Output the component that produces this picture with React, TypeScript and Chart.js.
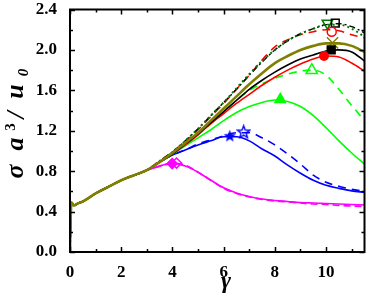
import React, { useEffect, useRef } from "react";
import { Chart, registerables } from "chart.js";
Chart.register(...registerables);

// shear rate grid (gamma)
const gammaGrid = [0, 0.02, 0.06, 0.15, 0.3, 0.5, 1, 1.5, 2, 2.5, 3, 3.5, 4, 4.5, 5, 5.5, 6, 6.5, 7, 7.5, 8, 8.5, 9, 9.5, 10, 10.5, 11, 11.5];
// common start (gamma 0 .. 3)
const trunk = [0, 0.28, 0.49, 0.46, 0.48, 0.5, 0.58, 0.645, 0.71, 0.76, 0.81];
// tails (gamma 3.5 .. 11.5)
const magentaSolid = [0.85, 0.88, 0.85, 0.79, 0.71, 0.635, 0.585, 0.55, 0.525, 0.51, 0.5, 0.49, 0.485, 0.48, 0.475, 0.47, 0.465];
const magentaDashed = [0.85, 0.875, 0.86, 0.79, 0.71, 0.63, 0.58, 0.545, 0.52, 0.505, 0.495, 0.485, 0.475, 0.47, 0.46, 0.455, 0.45];
const blueSolid = [0.89, 0.96, 1.01, 1.06, 1.1, 1.14, 1.14, 1.1, 1.02, 0.95, 0.86, 0.78, 0.71, 0.66, 0.63, 0.605, 0.59];
const blueDashed = [0.89, 0.96, 1.01, 1.07, 1.11, 1.15, 1.18, 1.18, 1.13, 1.06, 0.97, 0.87, 0.76, 0.69, 0.65, 0.62, 0.6];
const greenSolid = [0.89, 0.97, 1.05, 1.13, 1.21, 1.3, 1.38, 1.44, 1.48, 1.505, 1.49, 1.44, 1.35, 1.23, 1.1, 0.98, 0.87];
const greenDashed = [0.89, 0.97, 1.06, 1.16, 1.27, 1.38, 1.5, 1.6, 1.665, 1.72, 1.76, 1.79, 1.8, 1.75, 1.61, 1.45, 1.3];
const redSolid = [0.89, 0.97, 1.06, 1.16, 1.27, 1.37, 1.47, 1.56, 1.65, 1.73, 1.8, 1.86, 1.91, 1.94, 1.93, 1.87, 1.79];
const blackSolid = [0.89, 0.97, 1.07, 1.17, 1.28, 1.39, 1.5, 1.61, 1.7, 1.78, 1.85, 1.91, 1.95, 1.99, 2.0, 1.98, 1.89];
const oliveSolid = [0.89, 0.98, 1.08, 1.18, 1.3, 1.42, 1.54, 1.66, 1.77, 1.87, 1.94, 2.0, 2.04, 2.065, 2.065, 2.04, 1.98];
const redDashed = [0.9, 0.99, 1.09, 1.21, 1.34, 1.47, 1.61, 1.75, 1.9, 2.03, 2.1, 2.15, 2.18, 2.2, 2.19, 2.15, 2.12];
const greenDotted = [0.9, 0.99, 1.1, 1.22, 1.35, 1.48, 1.62, 1.76, 1.89, 2.0, 2.09, 2.16, 2.21, 2.25, 2.25, 2.21, 2.13];
const blackDashDot = [0.9, 0.99, 1.1, 1.22, 1.35, 1.48, 1.61, 1.75, 1.88, 2.0, 2.09, 2.16, 2.21, 2.25, 2.26, 2.23, 2.17];

// peak markers [gamma, value]
const magentaPeakSolid = [3.99, 0.875];
const magentaPeakDashed = [4.16, 0.88];
const bluePeakSolid = [6.24, 1.15];
const bluePeakDashed = [6.78, 1.19];
const greenPeakSolid = [8.21, 1.51];
const greenPeakDashed = [9.44, 1.8];
const redPeakSolid = [9.92, 1.94];
const redPeakDashed = [10.22, 2.18];
const blackPeakSolid = [10.2, 2.0];
const blackPeakDashDot = [10.36, 2.265];
const olivePeak = [10.25, 2.07];
const greenDottedPeak = [10.05, 2.265];

// axis ticks
const xMajor = [0, 2, 4, 6, 8, 10];
const xMinor = [1, 3, 5, 7, 9, 11];
const yMajor = [0, 0.4, 0.8, 1.2, 1.6, 2.0, 2.4];
const yMinor = [0.2, 0.6, 1.0, 1.4, 1.8, 2.2];

const MAGENTA = "#FF00FF";
const BLUE = "#0000FF";
const LIME = "#00FF00";
const RED = "#FF0000";
const BLACK = "#000000";
const OLIVE = "#808000";
const DKGREEN = "#007A00";
const FONT = '"Liberation Serif", "Times New Roman", serif';

function makeStar(size: number, color: string, filled: boolean) {
  const c = document.createElement("canvas");
  c.width = size;
  c.height = size;
  const g = c.getContext("2d")!;
  const cx = size / 2, cy = size / 2 + 0.5;
  const R = size / 2 - 1, r = R * 0.42;
  g.beginPath();
  for (let i = 0; i < 10; i++) {
    const a = -Math.PI / 2 + (i * Math.PI) / 5;
    const rad = i % 2 === 0 ? R : r;
    const px = cx + rad * Math.cos(a), py = cy + rad * Math.sin(a);
    if (i === 0) g.moveTo(px, py); else g.lineTo(px, py);
  }
  g.closePath();
  if (filled) {
    g.fillStyle = color;
    g.fill();
  } else {
    g.strokeStyle = color;
    g.lineWidth = 1.4;
    g.stroke();
  }
  return c;
}

function series(tail: number[], color: string, width: number, dash: number[], order: number) {
  const vals = [...trunk, ...tail];
  return {
    type: "line" as const,
    data: gammaGrid.map((g, i) => ({ x: g, y: vals[i] })),
    borderColor: color,
    borderWidth: width,
    borderDash: dash,
    pointRadius: 0,
    cubicInterpolationMode: "monotone" as const,
    fill: false,
    order,
  };
}

function marker(p: number[], color: string, style: any, radius: number, filled: boolean, rotation = 0) {
  return {
    type: "line" as const,
    data: [{ x: p[0], y: p[1] }],
    showLine: false,
    pointStyle: style,
    pointRadius: radius,
    pointRotation: rotation,
    pointBackgroundColor: filled ? color : "rgba(255,255,255,0)",
    pointBorderColor: color,
    pointBorderWidth: 1.5,
    borderColor: color,
    backgroundColor: filled ? color : "rgba(255,255,255,0)",
    order: 0,
  };
}

const framePlugin = {
  id: "frameTicks",
  afterDraw(chart: any) {
    const ctx = chart.ctx;
    const { left, right, top, bottom } = chart.chartArea;
    const xs = chart.scales.x;
    const ys = chart.scales.y;
    ctx.save();
    ctx.strokeStyle = "#000";
    ctx.lineWidth = 1.5;
    ctx.beginPath();
    const tick = (vals: number[], len: number) => {
      vals.forEach((v) => {
        const px = Math.round(xs.getPixelForValue(v)) + 0.5;
        ctx.moveTo(px, bottom);
        ctx.lineTo(px, bottom - len);
        ctx.moveTo(px, top);
        ctx.lineTo(px, top + len);
      });
    };
    const ytick = (vals: number[], len: number) => {
      vals.forEach((v) => {
        const py = Math.round(ys.getPixelForValue(v)) + 0.5;
        ctx.moveTo(left, py);
        ctx.lineTo(left + len, py);
        ctx.moveTo(right, py);
        ctx.lineTo(right - len, py);
      });
    };
    tick(xMajor, 5);
    tick(xMinor, 3);
    ytick(yMajor, 5);
    ytick(yMinor, 3);
    ctx.stroke();
    ctx.lineWidth = 2;
    ctx.strokeRect(left, top, right - left, bottom - top);

    // x title
    ctx.fillStyle = "#000";
    ctx.textAlign = "center";
    ctx.textBaseline = "alphabetic";
    ctx.font = `bold italic 24px ${FONT}`;
    ctx.fillText("γ", 226, 288);

    // y title (rotated)
    ctx.rotate(-Math.PI / 2);
    ctx.font = `bold italic 26px ${FONT}`;
    ctx.fillText("σ", -171.5, 23);
    ctx.fillText("a", -144, 23);
    ctx.fillText("/", -115, 24);
    ctx.fillText("u", -91.5, 23);
    ctx.font = `bold 15px ${FONT}`;
    ctx.fillText("3", -127, 15);
    ctx.font = `bold italic 15px ${FONT}`;
    ctx.fillText("0", -72.5, 28);
    ctx.restore();
  },
};

export default function App() {
  const ref = useRef<HTMLCanvasElement>(null);
  useEffect(() => {
    const canvas = ref.current!;
    const starFilled = makeStar(15, BLUE, true);
    const starOpen = makeStar(15, BLUE, false);
    const chart = new Chart(canvas, {
      type: "line",
      data: {
        datasets: [
          series(magentaSolid, MAGENTA, 1.6, [], 12),
          series(magentaDashed, MAGENTA, 1.6, [7, 4], 11),
          series(blueSolid, BLUE, 1.6, [], 10),
          series(blueDashed, BLUE, 1.6, [8, 6], 9),
          series(greenSolid, LIME, 1.6, [], 8),
          series(greenDashed, LIME, 1.6, [8, 6], 7),
          series(redSolid, RED, 1.6, [], 6),
          series(blackSolid, BLACK, 1.6, [], 5),
          series(redDashed, RED, 1.6, [8, 6], 4),
          series(blackDashDot, BLACK, 1.4, [6, 3, 2, 3], 3),
          series(greenDotted, DKGREEN, 2, [2, 3], 2),
          series(oliveSolid, OLIVE, 2.6, [], 1),
          marker(magentaPeakSolid, MAGENTA, "rectRot", 5, true),
          marker(magentaPeakDashed, MAGENTA, "rectRot", 5, false),
          marker(bluePeakSolid, BLUE, starFilled, 7, true),
          marker(bluePeakDashed, BLUE, starOpen, 7, false),
          marker(greenPeakSolid, LIME, "triangle", 6, true),
          marker(greenPeakDashed, LIME, "triangle", 6.5, false),
          marker(redPeakSolid, RED, "circle", 4.2, true),
          marker(redPeakDashed, RED, "circle", 4.5, false),
          marker(blackPeakSolid, BLACK, "rect", 5.5, true),
          marker(blackPeakDashDot, BLACK, "rect", 5.5, false),
          marker(olivePeak, OLIVE, "crossRot", 8, false),
          marker(greenDottedPeak, DKGREEN, "triangle", 6, false, 180),
        ] as any,
      },
      options: {
        responsive: false,
        animation: false,
        devicePixelRatio: 1,
        layout: { padding: { left: 0, right: 2, top: 8, bottom: 0 } },
        plugins: { legend: { display: false }, tooltip: { enabled: false } },
        scales: {
          x: {
            type: "linear",
            min: 0,
            max: 11.5,
            grid: { display: false },
            border: { display: false },
            ticks: {
              stepSize: 2,
              padding: 2,
              autoSkip: false,
              includeBounds: false,
              maxRotation: 0,
              color: "#000",
              font: { family: FONT, size: 17, weight: "bold" },
              callback: (v: any) => (Number(v) % 2 === 0 ? String(v) : ""),
            },
            afterFit: (s: any) => {
              s.height = 45;
              s.paddingLeft = 0;
              s.paddingRight = 0;
            },
          },
          y: {
            type: "linear",
            min: 0,
            max: 2.4,
            grid: { display: false },
            border: { display: false },
            ticks: {
              stepSize: 0.4,
              padding: 5,
              autoSkip: false,
              color: "#000",
              font: { family: FONT, size: 17, weight: "bold" },
              callback: (v: any) => Number(v).toFixed(1),
            },
            afterFit: (s: any) => {
              s.width = 70;
              s.paddingTop = 0;
              s.paddingBottom = 0;
            },
          },
        },
      },
      plugins: [framePlugin],
    });
    return () => chart.destroy();
  }, []);
  return (
    <div style={{ position: "fixed", left: 0, top: 0, width: 374, height: 297, background: "#fff" }}>
      <canvas ref={ref} width={374} height={297} style={{ display: "block" }} />
    </div>
  );
}
